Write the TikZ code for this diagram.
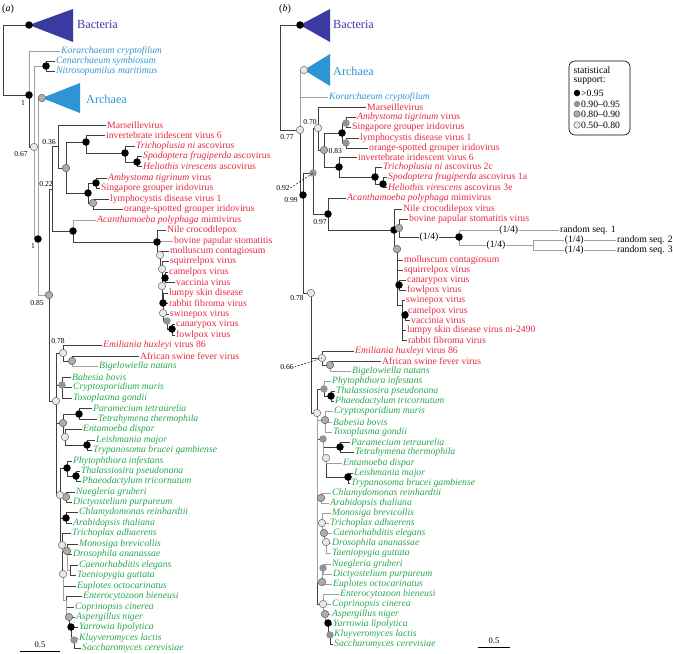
\documentclass[tikz,border=0pt]{standalone}
\usepackage{fontspec}
\setmainfont{Liberation Serif}
\definecolor{bact}{RGB}{58,58,160}
\definecolor{arch}{RGB}{45,148,214}
\definecolor{archtxt}{RGB}{50,150,210}
\definecolor{vir}{RGB}{232,40,64}
\definecolor{euk}{RGB}{38,168,78}
\definecolor{brd}{RGB}{62,62,62}
\definecolor{brg}{RGB}{160,160,160}

\begin{document}
\begin{tikzpicture}[x=1pt, y=-1pt,
	every node/.style={font=\fontsize{9.7}{10}\selectfont},
	lf/.style={anchor=west, inner xsep=1.5pt, inner ysep=0pt},
	vr/.style={lf, text=vir}, ek/.style={lf, text=euk}, ar/.style={lf, text=archtxt},
	br/.style={draw=brd, line width=0.7pt},
	bg/.style={draw=brg, line width=0.7pt},
	dk/.style={circle, fill=black, inner sep=0pt, minimum size=7.5pt},
	gy/.style={circle, fill=black!42, inner sep=0pt, minimum size=7.5pt},
	go/.style={circle, fill=black!32, draw=black!65, line width=0.5pt, inner sep=0pt, minimum size=7.5pt},
	lt/.style={circle, fill=black!9, draw=black!60, line width=0.5pt, inner sep=0pt, minimum size=7.5pt},
	sp/.style={font=\fontsize{7.6}{8}\selectfont, inner sep=0.5pt},
	qt/.style={fill=white, inner sep=0.8pt},
	clade/.style={anchor=west, inner sep=0pt, font=\fontsize{12.2}{12}\selectfont}]
	\useasboundingbox (0,0) rectangle (673,654);

	\node[anchor=center, inner sep=0pt, font=\fontsize{10}{10}\selectfont] (pa) at (8,9) {(\textit{a})};
	\node[anchor=center, inner sep=0pt, font=\fontsize{10}{10}\selectfont] (pb) at (285,9) {(\textit{b})};

	\foreach \n/\x/\y in {ra/3/60, bacA/29/25, a1/29/95, a2/34/147, aCN/46/66, a3/38/239, archA/42/98,
		a4/49/295, a5/52/189, aM/58/146, aG/66/168, aIA/86/142, aAsc/125/153, aSH/137/162,
		aAS/88/193, aAmS/96/183, aLO/93/203, aAc/73/231, aP1/157/242, aP2/160/255, aP3/162/269,
		aP4/162/286, aCV/165/278, aP5/163/303, aP6/163/313, aP7/167/321, aCF/172/329,
		a6/56/401, aEm/63/353, aAB/72/361, aApi/62/385, aX/63/423, aPT/79/414, aY/65/437,
		aLT/87/445, a8/60/495, aPD/67/468, aTP/76/476, aNd/66/497, aCA/66/518, a9/62/545,
		aMD/67/551, aCT/70/570, a10/63/574, aFu/66/600, aAs/69/617, aYa/71/627, aKS/74/640}
		\coordinate (\n) at (\x,\y);

	\foreach \n/\x/\y in {rb/280/78, bacB/300/25, b077/300/130, archB/304/70, b099/303/195, b092/313/173,
		b078/311/293, b070/318/128, b083/324/150, bIr/342/133, bAS/346/123, bLO/346/143,
		bIA/339/167, bAsc/375/177, bSH/383/184, b097/328/214, bP1/394/230, bBR/399/228,
		bR1/459/237, bR2/533/245, bP2/397/249, bCF/399/285, bP3/402/305, bCV/405/315,
		b066/322/358, bAB/330/365, bE/317/413, bPhy/324/389, bTP/331/396, bApi/325/420,
		bCil/323/439, bPT/340/447, bEL/326/458, bLT/348/477, bCA/321/498, bM/322/523,
		bCD/324/533, bDT/326/542, bEu/322/582, bN/323/568, bF/323/604, bAs/325/614,
		bYa/328/623, bKS/330/635}
		\coordinate (\n) at (\x,\y);

	\fill[bact] (bacA) -- (73,9) -- (73,42) -- cycle;
	\fill[arch] (archA) -- (80,83) -- (80,113) -- cycle;
	\fill[bact] (bacB) -- (330,9) -- (330,42) -- cycle;
	\fill[arch] (archB) -- (330,54) -- (330,86) -- cycle;
	\node[clade, text=bact] (tBacA) at (77,25) {Bacteria};
	\node[clade, text=arch] (tArcA) at (86,99) {Archaea};
	\node[clade, text=bact] (tBacB) at (333,25) {Bacteria};
	\node[clade, text=arch] (tArcB) at (333,71) {Archaea};

	\node[ar] (aKor) at (59.5,51) {\textit{Korarchaeum cryptofilum}};
	\node[ar] (aCen) at (54.5,61) {\textit{Cenarchaeum symbiosum}};
	\node[ar] (aNit) at (54.5,71) {\textit{Nitrosopumilus maritimus}};
	\node[vr] (aMar) at (105.5,125) {Marseillevirus};
	\node[vr] (aIIV) at (104.5,135) {invertebrate iridescent virus 6};
	\node[vr] (aTri) at (134.5,146) {\textit{Trichoplusia ni} ascovirus};
	\node[vr] (aSpo) at (141.5,156) {\textit{Spodoptera frugiperda} ascovirus};
	\node[vr] (aHel) at (141.5,166) {\textit{Heliothis virescens} ascovirus};
	\node[vr] (aAmb) at (106.5,178) {\textit{Ambystoma tigrinum} virus};
	\node[vr] (aSin) at (99.5,188) {Singapore grouper iridovirus};
	\node[vr] (aLym) at (108.5,199) {lymphocystis disease virus 1};
	\node[vr] (aOra) at (122.5,209) {orange-spotted grouper iridovirus};
	\node[vr] (aAca) at (95.5,220) {\textit{Acanthamoeba polyphaga} mimivirus};
	\node[vr] (aNil) at (165.5,230) {Nile crocodilepox};
	\node[vr] (aBov) at (172.5,241) {bovine papular stomatitis};
	\node[vr] (aMol) at (168.5,251) {molluscum contagiosum};
	\node[vr] (aSqu) at (168.5,261) {squirrelpox virus};
	\node[vr] (aCam) at (167.5,272) {camelpox virus};
	\node[vr] (aVac) at (174.5,282) {vaccinia virus};
	\node[vr] (aLum) at (167.5,293) {lumpy skin disease};
	\node[vr] (aRab) at (167.5,303) {rabbit fibroma virus};
	\node[vr] (aSwi) at (168.5,314) {swinepox virus};
	\node[vr] (aCan) at (174.5,324) {canarypox virus};
	\node[vr] (aFow) at (174.5,335) {fowlpox virus};
	\node[vr] (aEmi) at (101.5,345) {\textit{Emiliania huxleyi} virus 86};
	\node[vr] (aAsf) at (138.5,356) {African swine fever virus};
	\node[ek] (aBig) at (97.5,366) {\textit{Bigelowiella natans}};
	\node[ek] (aBab) at (70.5,377) {\textit{Babesia bovis}};
	\node[ek] (aCry) at (71.5,387) {\textit{Cryptosporidium muris}};
	\node[ek] (aTox) at (71.5,398) {\textit{Toxoplasma gondii}};
	\node[ek] (aPar) at (91.5,408) {\textit{Paramecium tetraurelia}};
	\node[ek] (aTet) at (96.5,419) {\textit{Tetrahymena thermophila}};
	\node[ek] (aEnt) at (81.5,429) {\textit{Entamoeba dispar}};
	\node[ek] (aLei) at (94.5,440) {\textit{Leishmania major}};
	\node[ek] (aTry) at (91.5,450) {\textit{Trypanosoma brucei gambiense}};
	\node[ek] (aPhy) at (71.5,461) {\textit{Phytophthora infestans}};
	\node[ek] (aTha) at (79.5,471) {\textit{Thalassiosira pseudonana}};
	\node[ek] (aPha) at (80.5,481) {\textit{Phaeodactylum tricornutum}};
	\node[ek] (aNae) at (74.5,492) {\textit{Naegleria gruberi}};
	\node[ek] (aDic) at (71.5,502) {\textit{Dictyostelium purpureum}};
	\node[ek] (aChl) at (77.5,512) {\textit{Chlamydomonas reinhardtii}};
	\node[ek] (aAra) at (71.5,523) {\textit{Arabidopsis thaliana}};
	\node[ek] (aTrx) at (70.5,533) {\textit{Trichoplax adhaerens}};
	\node[ek] (aMon) at (77.5,544) {\textit{Monosiga brevicollis}};
	\node[ek] (aDro) at (71.5,554) {\textit{Drosophila ananassae}};
	\node[ek] (aCae) at (77.5,565) {\textit{Caenorhabditis elegans}};
	\node[ek] (aTae) at (75.5,575) {\textit{Taeniopygia guttata}};
	\node[ek] (aEup) at (75.5,586) {\textit{Euplotes octocarinatus}};
	\node[ek] (aEnb) at (81.5,596) {\textit{Enterocytozoon bieneusi}};
	\node[ek] (aCop) at (73.5,607) {\textit{Coprinopsis cinerea}};
	\node[ek] (aAsp) at (74.5,617) {\textit{Aspergillus niger}};
	\node[ek] (aYar) at (77.5,627) {\textit{Yarrowia lipolytica}};
	\node[ek] (aKlu) at (77.5,638) {\textit{Kluyveromyces lactis}};
	\node[ek] (aSac) at (80.5,648) {\textit{Saccharomyces cerevisiae}};

	\node[ar] (bKor) at (327.5,97.5) {\textit{Korarchaeum cryptofilum}};
	\node[vr] (bMar) at (365.5,107) {Marseillevirus};
	\node[vr] (bAmb) at (355.5,117.5) {\textit{Ambystoma tigrinum} virus};
	\node[vr] (bSin) at (350.5,127.5) {Singapore grouper iridovirus};
	\node[vr] (bLym) at (358.5,138) {lymphocystis disease virus 1};
	\node[vr] (bOra) at (367.5,148) {orange-spotted grouper iridovirus};
	\node[vr] (bIIV) at (356.5,157.5) {invertebrate iridescent virus 6};
	\node[vr] (bTri) at (381.5,167.5) {\textit{Trichoplusia ni} ascovirus 2c};
	\node[vr] (bSpo) at (386.5,177.5) {\textit{Spodoptera frugiperda} ascovirus 1a};
	\node[vr] (bHel) at (386.5,187.5) {\textit{Heliothis virescens} ascovirus 3e};
	\node[vr] (bAca) at (345.5,198) {\textit{Acanthamoeba polyphaga} mimivirus};
	\node[vr] (bNil) at (401.5,209) {Nile crocodilepox virus};
	\node[vr] (bBov) at (407.5,219) {bovine papular stomatitis virus};
	\node[lf] (bRs1) at (558.5,230) {random seq. 1};
	\node[lf] (bRs2) at (615.5,240) {random seq. 2};
	\node[lf] (bRs3) at (615.5,250) {random seq. 3};
	\node[vr] (bMol) at (402.5,260) {molluscum contagiosum};
	\node[vr] (bSqu) at (402.5,270) {squirrelpox virus};
	\node[vr] (bCan) at (405.5,280) {canarypox virus};
	\node[vr] (bFow) at (405.5,290) {fowlpox virus};
	\node[vr] (bSwi) at (404.5,300) {swinepox virus};
	\node[vr] (bCam) at (406.5,311) {camelpox virus};
	\node[vr] (bVac) at (409.5,320) {vaccinia virus};
	\node[vr] (bLum) at (405.5,330) {lumpy skin disease virus ni-2490};
	\node[vr] (bRab) at (406.5,340) {rabbit fibroma virus};
	\node[vr] (bEmi) at (353.5,351) {\textit{Emiliania huxleyi} virus 86};
	\node[vr] (bAsf) at (380.5,361) {African swine fever virus};
	\node[ek] (bBig) at (350.5,371) {\textit{Bigelowiella natans}};
	\node[ek] (bPhl) at (330.5,381) {\textit{Phytophthora infestans}};
	\node[ek] (bTha) at (334.5,391) {\textit{Thalassiosira pseudonana}};
	\node[ek] (bPha) at (333.5,401) {\textit{Phaeodactylum tricornutum}};
	\node[ek] (bCry) at (332.5,411) {\textit{Cryptosporidium muris}};
	\node[ek] (bBab) at (331.5,422) {\textit{Babesia bovis}};
	\node[ek] (bTox) at (331.5,432) {\textit{Toxoplasma gondii}};
	\node[ek] (bPar) at (349.5,442) {\textit{Paramecium tetraurelia}};
	\node[ek] (bTet) at (353.5,452) {\textit{Tetrahymena thermophila}};
	\node[ek] (bEnt) at (341.5,463) {\textit{Entamoeba dispar}};
	\node[ek] (bLei) at (352.5,473) {\textit{Leishmania major}};
	\node[ek] (bTry) at (349.5,483) {\textit{Trypanosoma brucei gambiense}};
	\node[ek] (bChl) at (330.5,493) {\textit{Chlamydomonas reinhardtii}};
	\node[ek] (bAra) at (328.5,503) {\textit{Arabidopsis thaliana}};
	\node[ek] (bMon) at (330.5,513) {\textit{Monosiga brevicollis}};
	\node[ek] (bTrx) at (328.5,523) {\textit{Trichoplax adhaerens}};
	\node[ek] (bCae) at (331.5,533) {\textit{Caenorhabditis elegans}};
	\node[ek] (bDro) at (330.5,543) {\textit{Drosophila ananassae}};
	\node[ek] (bTae) at (330.5,553) {\textit{Taeniopygia guttata}};
	\node[ek] (bNae) at (330.5,564) {\textit{Naegleria gruberi}};
	\node[ek] (bDic) at (331.5,574) {\textit{Dictyostelium purpureum}};
	\node[ek] (bEup) at (331.5,584) {\textit{Euplotes octocarinatus}};
	\node[ek] (bEnb) at (338.5,594) {\textit{Enterocytozoon bieneusi}};
	\node[ek] (bCop) at (330.5,604) {\textit{Coprinopsis cinerea}};
	\node[ek] (bAsp) at (330.5,614) {\textit{Aspergillus niger}};
	\node[ek] (bYar) at (331.5,624) {\textit{Yarrowia lipolytica}};
	\node[ek] (bKlu) at (332.5,634) {\textit{Kluyveromyces lactis}};
	\node[ek] (bSac) at (332.5,644) {\textit{Saccharomyces cerevisiae}};

	\foreach \u/\v in {ra/bacA, ra/a1, a1/a2, aCN/aCen, aCN/aNit, a4/a5, a4/a6, a5/aM, a5/aAc,
		aM/aMar, aM/aG, aG/aIA, aG/aAS, aIA/aIIV, aIA/aAsc, aAsc/aTri, aAsc/aSH, aSH/aSpo, aSH/aHel,
		aAS/aAmS, aAS/aLO, aAmS/aAmb, aAmS/aSin, aLO/aLym, aLO/aOra, aAc/aP1, aP1/aNil,
		aP1/aP2, aP2/aMol, aP2/aP3, aP3/aSqu, aP3/aP4, aP4/aCV, aCV/aCam, aCV/aVac, aP4/aP5,
		aP5/aLum, aP5/aRab, aP5/aP6, aP6/aSwi, aP6/aP7, aP7/aCF, aCF/aCan, aCF/aFow,
		a6/aEm, aEm/aEmi, aEm/aAB, aAB/aAsf, a6/aApi, aApi/aBab, aApi/aCry, aApi/aTox, a6/aX,
		aX/aPT, aPT/aPar, aPT/aTet, aX/aY, aY/aEnt, aY/aLT, aLT/aLei, aLT/aTry, a6/a8, a8/aPD,
		aPD/aPhy, aPD/aTP, aTP/aTha, aTP/aPha, aNd/aNae, aNd/aDic, a8/aCA, aCA/aChl,
		aCA/aAra, a8/a9, a9/aTrx, aMD/aMon, aMD/aDro, aCT/aCae, aCT/aTae, a9/a10,
		a10/aEup, aFu/aEnb, aFu/aCop, aAs/aAsp, aAs/aYa, aYa/aYar, aYa/aKS, aKS/aKlu, aKS/aSac,
		rb/bacB, rb/b077, b077/b099, b099/b092, b099/b078, b092/b070, b092/b097, b070/bMar,
		b070/b083, b083/bIr, b083/bIA, bIr/bAS, bIr/bLO, bAS/bAmb, bAS/bSin, bLO/bLym, bLO/bOra,
		bIA/bIIV, bIA/bAsc, bAsc/bTri, bAsc/bSH, bSH/bSpo, bSH/bHel, b097/bAca, b097/bP1,
		bP1/bNil, bP1/bBR, bP1/bP2, bBR/bBov, bP2/bMol, bP2/bSqu, bP2/bCF, bCF/bCan, bCF/bFow,
		bP2/bP3, bP3/bSwi, bP3/bCV, bCV/bCam, bCV/bVac, bP3/bLum, bP3/bRab, b078/b066,
		b066/bEmi, b066/bAB, bAB/bAsf, b078/bE, bE/bPhy, bPhy/bTP, bTP/bTha, bTP/bPha,
		bE/bCil, bCil/bPT, bPT/bPar, bPT/bTet, bEL/bLT, bLT/bLei, bLT/bTry, bE/bF, bYa/bYar,
		bYa/bKS, bKS/bKlu, bKS/bSac}
		\draw[br] (\u) |- (\v);
	\foreach \u/\v in {a1/aKor, a2/aCN, a2/a3, a3/archA, a3/a4, aAc/aAca, aP1/aBov, aAB/aBig,
		a8/aNd, a9/aMD, aMD/aCT, a10/aFu, aFu/aAs,
		b077/archB, b077/bKor, bAB/bBig, bPhy/bPhl, bE/bApi, bApi/bCry, bApi/bBab, bApi/bTox,
		bCil/bEL, bEL/bEnt, bE/bCA, bCA/bChl, bCA/bAra, bE/bM, bM/bMon, bM/bTrx, bM/bCD,
		bCD/bCae, bCD/bDT, bDT/bDro, bDT/bTae, bE/bEu, bEu/bN, bN/bNae, bN/bDic, bEu/bEup,
		bF/bEnb, bF/bCop, bF/bAs, bAs/bAsp, bAs/bYa}
		\draw[bg] (\u) |- (\v);

	\draw[br] (bBR) |- (bR1) node[qt, pos=0.75] (q1) {(1/4)};
	\draw[bg] (bR1) |- (bRs1) node[qt, pos=0.75] (q2) {(1/4)};
	\draw[bg] (bR1) |- (bR2) node[qt, pos=0.75] (q3) {(1/4)};
	\draw[bg] (bR2) |- (bRs2) node[qt, pos=0.75] (q4) {(1/4)};
	\draw[bg] (bR2) |- (bRs3) node[qt, pos=0.75] (q5) {(1/4)};

	\foreach \n in {bacA, a1, aCN, a3, aIA, aAsc, aSH, aAS, aAmS, aAc, aP1, aCV, aP5, aCF, aPT,
		aLT, aPD, aTP, aCA, aYa, bacB, b099, bIr, bIA, bAsc, bSH, b097, bP1, bR1, bCF, bCV,
		bTP, bPT, bLT, bYa}
		\node[dk] (d\n) at (\n) {};
	\foreach \n in {aApi, aP7, aKS, b092, bAS, bLO, bPhy, bCil, bN, bKS}
		\node[gy] (d\n) at (\n) {};
	\foreach \n in {archA, a4, aG, aLO, aAB, aX, aNd, aAs, aMD, b083, bBR, bP2, bAB, bApi,
		bCA, bCD, bEu, bAs}
		\node[go] (d\n) at (\n) {};
	\foreach \n in {a2, aP2, aP3, aP4, aP6, aEm, a6, aY, a8, a9, a10, b077, archB, b070,
		b078, b066, bE, bEL, bM, bDT, bF}
		\node[lt] (d\n) at (\n) {};

	\node[sp] (s1) at (23,103) {1};
	\node[sp] (s2) at (21,154) {0.67};
	\node[sp] (s3) at (49,142) {0.36};
	\node[sp] (s4) at (46,184) {0.22};
	\node[sp] (s5) at (33,246) {1};
	\node[sp] (s6) at (37,303) {0.85};
	\node[sp] (s7) at (58,341) {0.78};
	\node[sp] (s8) at (287,137) {0.77};
	\node[sp] (s9) at (310,122) {0.70};
	\node[sp, anchor=west] (s10) at (328,151) {0.83};
	\node[sp] (s11) at (283,188) {0.92};
	\node[sp] (s12) at (291,200) {0.99};
	\node[sp] (s13) at (320,222) {0.97};
	\node[sp] (s14) at (297,298) {0.78};
	\node[sp] (s15) at (287,367) {0.66};
	\draw[line width=0.5pt, dash pattern=on 2pt off 1.5pt] (s11.east) -- (b092);
	\draw[line width=0.5pt, dash pattern=on 2pt off 1.5pt] (s15.east) -- (b066);

	\draw[rounded corners=6pt, line width=0.6pt] (569,61) rectangle (630,135);
	\node[lf] (lg1) at (572,70) {statistical};
	\node[lf] (lg2) at (572,81) {support:};
	\node[dk, minimum size=6.5pt] (lk1) at (577,93) {};
	\node[gy, minimum size=6.5pt] (lk2) at (577,104) {};
	\node[go, minimum size=6.5pt] (lk3) at (577,114) {};
	\node[lt, minimum size=6.5pt] (lk4) at (577,125) {};
	\node[lf] (lt1) at (579.5,93) {>0.95};
	\node[lf] (lt2) at (579.5,104) {0.90--0.95};
	\node[lf] (lt3) at (579.5,114) {0.80--0.90};
	\node[lf] (lt4) at (579.5,125) {0.50--0.80};

	\coordinate (sa1) at (20,651);
	\coordinate (sa2) at (60,651);
	\coordinate (sb1) at (478,647);
	\coordinate (sb2) at (510,647);
	\draw[line width=0.6pt] (sa1) -- (sa2);
	\draw[line width=0.6pt] (sb1) -- (sb2);
	\node[sp, font=\fontsize{8.5}{9}\selectfont] (sal) at (40,645) {0.5};
	\node[sp, font=\fontsize{8.5}{9}\selectfont] (sbl) at (494,641) {0.5};
\end{tikzpicture}
\end{document}
